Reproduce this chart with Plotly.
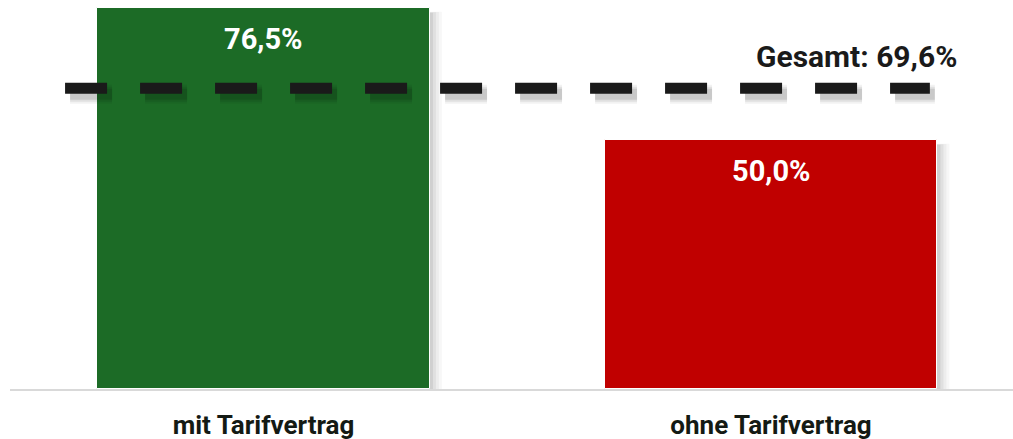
import plotly.graph_objects as go

# Data
categories = ["mit Tarifvertrag", "ohne Tarifvertrag"]
values = [76.5, 50.0]
bar_colors = ["#1c6b26", "#c00000"]
total_value = 69.6
total_label = "Gesamt"


def fmt(v):
    return f"{v:.1f}".replace(".", ",") + "%"


FONT = "Roboto"
X_RANGE = [-0.4995, 1.4768]   # category units, 1 unit = 507.5 px
Y_RANGE = [0, 78.1]
Y2_RANGE = [0, 90]
BAR_W = 0.656
PX = 1 / 507.5                # one horizontal pixel in x units
PY2 = Y2_RANGE[1] / 389       # one vertical pixel in y2 units
LINE_X = [-0.391, 1.313]      # extent of the dashed total line
DASH = "42px,33px"

xs = list(range(len(categories)))

fig = go.Figure()

# bars
fig.add_trace(go.Bar(
    x=xs, y=values, width=BAR_W,
    marker=dict(color=bar_colors, line=dict(color="white", width=1)),
    hoverinfo="skip", showlegend=False,
))

# soft drop shadow of the dashed line (layered translucent strokes)
for w, a in [(19, 0.05), (15, 0.07), (11, 0.10)]:
    fig.add_trace(go.Scatter(
        x=[LINE_X[0] + 5 * PX, LINE_X[1] + 5 * PX],
        y=[total_value - 6 * PY2] * 2,
        mode="lines", yaxis="y2",
        line=dict(color=f"rgba(0,0,0,{a})", width=w, dash=DASH),
        hoverinfo="skip", showlegend=False,
    ))

# dashed total line
fig.add_trace(go.Scatter(
    x=LINE_X, y=[total_value] * 2,
    mode="lines", yaxis="y2",
    line=dict(color="#1a1a1a", width=11, dash=DASH),
    hoverinfo="skip", showlegend=False,
))

# bar shadows (right/bottom)
shapes = []
for i, v in enumerate(xs):
    right = v + BAR_W / 2
    left = v - BAR_W / 2
    for k, a in [(12, 0.03), (9, 0.04), (6, 0.05), (3, 0.07)]:
        shapes.append(dict(
            type="rect", xref="x", yref="y", layer="below",
            x0=left + 3 * PX, x1=right + k * PX,
            y0=0, y1=values[i] - 1.0 + k * 0.02,
            line=dict(width=0), fillcolor=f"rgba(0,0,0,{a})",
        ))

annotations = []
for i, v in enumerate(values):
    annotations.append(dict(
        x=xs[i], y=v, xref="x", yref="y", yshift=-31,
        text=fmt(v), showarrow=False, yanchor="middle",
        font=dict(family=FONT, size=29, color="white", weight=700),
    ))
annotations.append(dict(
    x=1.3705, y=total_value, xref="x", yref="y2", yshift=32,
    text=f"{total_label}: {fmt(total_value)}", showarrow=False,
    xanchor="right", yanchor="middle",
    font=dict(family=FONT, size=30, color="#1a1a1a", weight=700),
))

fig.update_layout(
    width=1013, height=439,
    margin=dict(l=10, r=0, t=0, b=50),
    paper_bgcolor="white", plot_bgcolor="white",
    xaxis=dict(
        range=X_RANGE, tickvals=xs, ticktext=categories,
        showline=True, linecolor="#d9d9d9", linewidth=2,
        showgrid=False, zeroline=False, ticks="",
        tickfont=dict(family=FONT, size=26, color="#141a14", weight=700),
        ticklabelstandoff=12,
    ),
    yaxis=dict(range=Y_RANGE, visible=False, showgrid=False, zeroline=False),
    yaxis2=dict(range=Y2_RANGE, overlaying="y", visible=False,
                showgrid=False, zeroline=False),
    shapes=shapes,
    annotations=annotations,
    bargap=0,
)

fig.write_html("out.html")
